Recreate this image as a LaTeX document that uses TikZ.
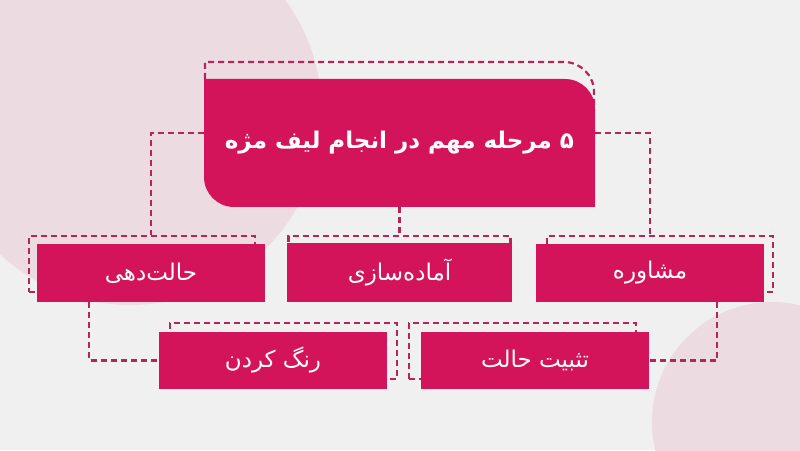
\documentclass[tikz,border=0pt]{standalone}
\usepackage{fontspec}
\newfontfamily\arabicfont[Script=Arabic]{DejaVu Sans}
\TeXXeTstate=1
\usetikzlibrary{positioning}
\definecolor{bgcol}{HTML}{F1F0F1}
\definecolor{blush}{HTML}{ECDCE2}
\definecolor{berry}{HTML}{D3145A}
\definecolor{dashcol}{HTML}{B3265C}
\tikzset{
    stepbox/.style={fill=berry, text=white, minimum width=228pt, minimum height=58pt, inner sep=0pt, font=\arabicfont\fontsize{23}{26}\selectfont},
    ghost/.style={draw=dashcol, line width=2.2pt, dash pattern=on 6pt off 4pt, minimum width=226pt, minimum height=56pt, inner sep=0pt},
    link/.style={draw=dashcol, line width=2.2pt, dash pattern=on 6pt off 4pt}
}

\begin{document}
\begin{tikzpicture}[x=1pt, y=1pt]
    \useasboundingbox (0, 0) rectangle (800, 450);
    \fill[bgcol] (0, 0) rectangle (800, 450);
    \begin{scope}
        \clip (0, 0) rectangle (800, 450);
        \fill[blush] (130, 337) circle (192);
        \fill[blush] (772, 28) circle (120);
    \end{scope}
    \draw[link] (205, 371)--(205, 388)--(564, 388) arc[start angle=90, end angle=0, radius=30]--(594, 343);
    \fill[berry] (204, 371)--(565, 371) arc[start angle=90, end angle=0, radius=30]--(595, 243)--(234, 243) arc[start angle=270, end angle=180, radius=30]--cycle;
    \node[minimum width=391pt, minimum height=128pt, text=white, font=\arabicfont\bfseries\fontsize{23}{28}\selectfont] (title) at (399.5, 307) {\raisebox{-3pt}{\beginR ۵ مرحله مهم در انجام لیف مژه\endR}};
    \node[ghost] (dahi-o) at (142, 186) {};
    \node[ghost, minimum width=222pt] (amade-o) at (399.5, 186) {};
    \node[ghost] (moshavere-o) at (660, 186) {};
    \node[ghost, minimum width=227pt] (rang-o) at (283.5, 99) {};
    \node[ghost, minimum width=227pt] (tasbit-o) at (522.5, 99) {};
    \node[stepbox] (dahi) at (151, 177) {\beginR حالت‌دهی\endR};
    \node[stepbox, minimum width=225pt, minimum height=59pt] (amade) at (399.5, 177.5) {\beginR آماده‌سازی\endR};
    \node[stepbox] (moshavere) at (650, 177) {\beginR مشاوره\endR};
    \node[stepbox, minimum height=57pt] (rang) at (273, 89.5) {\beginR رنگ کردن\endR};
    \node[stepbox, minimum height=57pt] (tasbit) at (535, 89.5) {\beginR تثبیت حالت\endR};
    \draw[link] ([yshift=10pt]title.west) -| (dahi.north |- dahi-o.north);
    \draw[link] ([yshift=10pt]title.east) -| (moshavere.north |- moshavere-o.north);
    \draw[link] (title.south)--(amade.north |- amade-o.north);
    \draw[link] ([xshift=52pt]dahi.south west) |- (rang.west);
    \draw[link] ([xshift=-47pt]moshavere.south east) |- (tasbit.east);
\end{tikzpicture}
\end{document}
